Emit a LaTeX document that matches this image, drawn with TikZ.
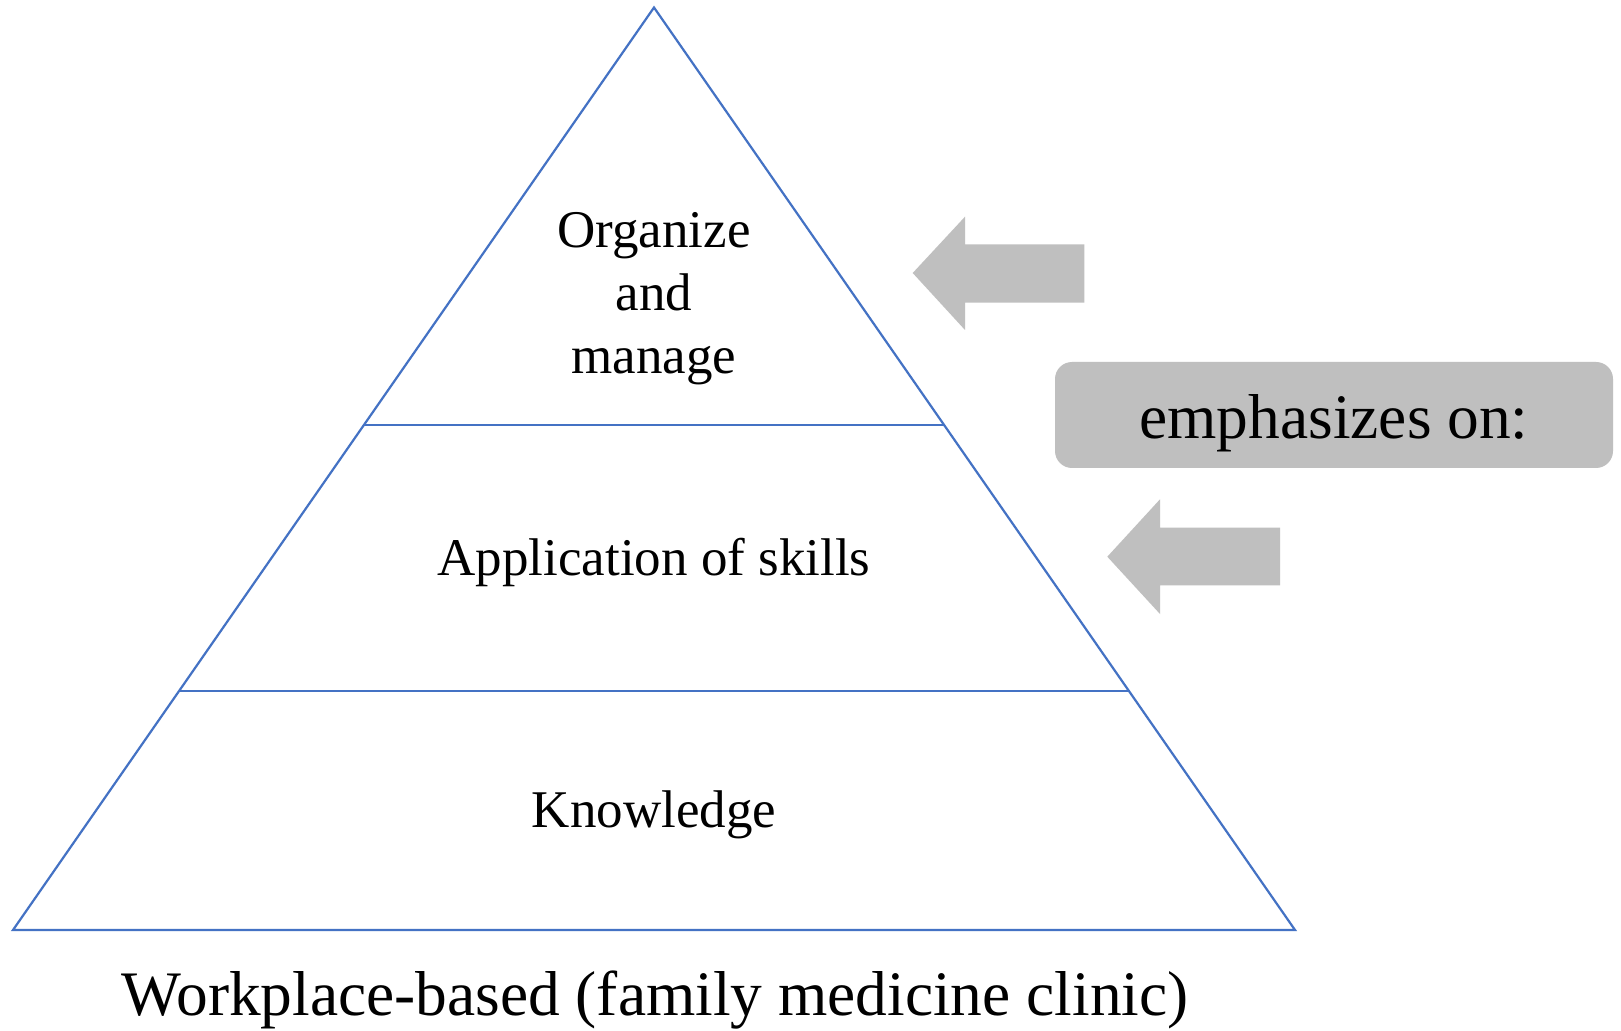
\documentclass[tikz,border=0pt]{standalone}
\usepackage{fontspec}
\setmainfont{Liberation Serif}
\definecolor{pyrblue}{HTML}{4472C4}
\definecolor{arrgray}{HTML}{BFBFBF}
\begin{document}
\begin{tikzpicture}[x=0.5pt,y=-0.5pt,
  edge/.style={draw=pyrblue, line width=1.1pt},
  lbl/.style={font=\fontsize{26.5}{31.5}\selectfont, anchor=base, inner sep=0pt},
  big/.style={font=\fontsize{31.7}{38}\selectfont, anchor=base, inner sep=0pt},
  garrow/.style={fill=arrgray, draw=none}]
\useasboundingbox (0,0) rectangle (1621,1031);
\fill[white] (0,0) rectangle (1621,1031);
\coordinate (apex) at (654,7.5);
\coordinate (bl) at (13,930);
\coordinate (br) at (1295,930);
\coordinate (l1) at (364,425);
\coordinate (r1) at (944,425);
\coordinate (l2) at (179,690.6);
\coordinate (r2) at (1129,690.6);
\draw[edge, line join=miter] (bl) -- (apex) -- (br) -- cycle;
\draw[edge] (l1) -- (r1);
\draw[edge] (l2) -- (r2);
% arrows
\fill[garrow] (912.7,273) -- (965,216.7) -- (965,244.3) -- (1084.3,244.3) -- (1084.3,302.7) -- (965,302.7) -- (965,330) -- cycle;
\fill[garrow] (1107.3,556.7) -- (1160,499.3) -- (1160,527.7) -- (1280,527.7) -- (1280,585.3) -- (1160,585.3) -- (1160,614) -- cycle;
% rounded box
\fill[arrgray, rounded corners=8.5pt] (1055,362) rectangle (1613,468);
\node[big] (emph) at (1334,439) {emphasizes on:};
% labels
\node[lbl] (org1) at (654,248) {Organize};
\node[lbl] (org2) at (654,311) {and};
\node[lbl] (org3) at (654,374) {manage};
\node[lbl] (app) at (654,575) {Application of skills};
\node[lbl] (know) at (654,827) {Knowledge};
\node[big] (cap) at (655,1015) {Workplace-based (family medicine clinic)};
\end{tikzpicture}
\end{document}
